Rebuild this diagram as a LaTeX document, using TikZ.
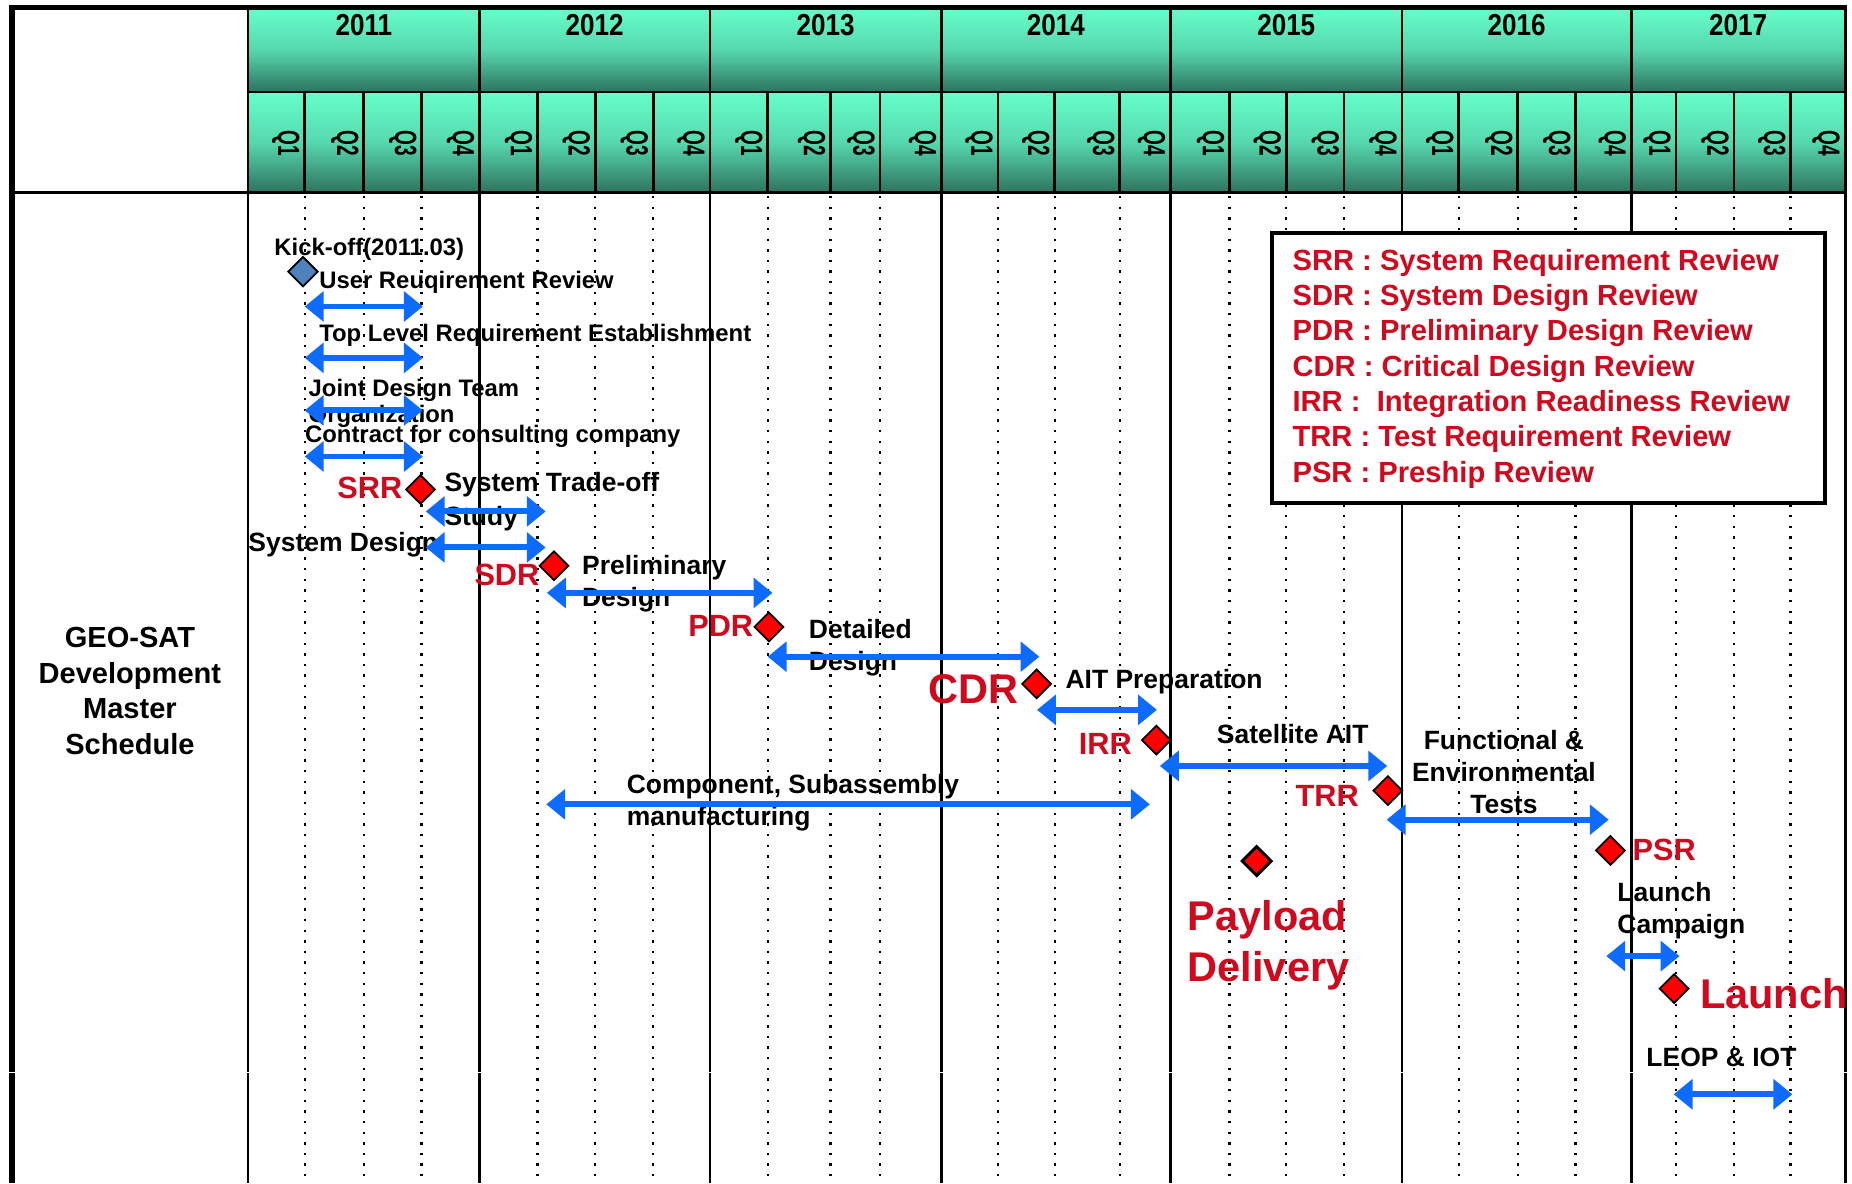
\documentclass[tikz,border=0pt]{standalone}
\usepackage{fontspec}
\setmainfont{Liberation Sans}
\newfontfamily\hdrfont[FakeStretch=0.86]{Liberation Sans}
\newfontfamily\qfont[FakeStretch=0.62]{Liberation Sans}
\usepackage{xcolor}
\definecolor{HdrLight}{HTML}{66FFCC}
\definecolor{HdrDark}{HTML}{2E7260}
\definecolor{SpanBlue}{HTML}{0D6BFF}
\definecolor{MileRed}{HTML}{FF0000}
\definecolor{LabelRed}{HTML}{D00A1E}
\definecolor{KickBlue}{HTML}{4F81BD}
\usetikzlibrary{arrows.meta,shapes.geometric}
\newcommand{\fsz}[2]{\fontsize{#1}{#2}\selectfont}

\begin{document}
\begin{tikzpicture}[x=0.2mm, y=-0.2mm, every node/.style={inner sep=0pt, font=\bfseries},
  hdr/.style={top color=HdrLight, bottom color=HdrDark, middle color=HdrLight!72!HdrDark},
  frame/.style={line width=0.46mm},
  qdots/.style={line width=0.4mm, dash pattern=on 0.4mm off 1.4mm},
  yearlbl/.style={font=\hdrfont\bfseries\fsz{14.6}{16}},
  qlbl/.style={rotate=-90, anchor=north, font=\qfont\bfseries\fsz{14.8}{16}},
  span/.style={draw=SpanBlue, line width=1mm, >={Triangle[width=5mm,length=3.2mm]}, <->},
  ms/.style={diamond, draw=black, fill=MileRed, line width=0.3mm, minimum size=5mm},
  task/.style={anchor=base west, align=left, font=\bfseries\fsz{12.75}{15.4}},
  tasksm/.style={task, font=\bfseries\fsz{11.5}{12.5}},
  mslbl/.style={text=LabelRed, font=\bfseries\fsz{14.8}{17}},
  biglbl/.style={text=LabelRed, font=\bfseries\fsz{20}{24.6}}]
  \useasboundingbox (0,0) rectangle (1568,1002);

  \foreach \yr/\a/\b in {2011/210/406,2012/406/601,2013/601/797,2014/797/991,2015/991/1187,2016/1187/1381,2017/1381/1562}{
    \shade[hdr] (\a,6) rectangle (\b,78);
    \node[yearlbl] (yr\yr) at ({(\a+\b)/2},21) {\yr};
  }
  \foreach \a/\b/\q [count=\i] in {210/258/1,258/308/2,308/357/3,357/406/4,406/455/1,455/504/2,504/553/3,553/601/4,
      601/650/1,650/703/2,703/745/3,745/797/4,797/845/1,845/893/2,893/948/3,948/991/4,991/1041/1,1041/1089/2,
      1089/1138/3,1138/1187/4,1187/1235/1,1235/1285/2,1285/1334/3,1334/1381/4,1381/1419/1,1419/1468/2,
      1468/1516/3,1516/1562/4}{
    \shade[hdr] (\a,78) rectangle (\b,163);
    \node[qlbl] (q\i) at (\b-4,121) {Q\q};
  }

  \draw[line width=0.86mm] (8,6.3) -- (1564,6.3);
  \draw[line width=1mm] (10.4,4) -- (10.4,1002);
  \draw[line width=0.6mm] (1562.3,4) -- (1562.3,1002);
  \draw[line width=0.6mm] (10,163) -- (1562,163);
  \draw[frame] (210,78) -- (1562,78);
  \foreach \x in {210,406,601,797,991,1187,1381} \draw[frame] (\x,6) -- (\x,1002);
  \draw[white, line width=0.3mm] (0,908) -- (1568,908);
  \foreach \x in {258,308,357,455,504,553,650,703,745,845,893,948,1041,1089,1138,1235,1285,1334,1419,1468,1516}{
    \draw[frame] (\x,78) -- (\x,163);
    \draw[qdots] (\x,166) -- (\x,1002);
  }

  \node[font=\bfseries\fsz{14}{17.05}, align=center] (title) at (110,585) {GEO-SAT\\Development\\Master\\Schedule};

  \node[draw=black, fill=white, line width=0.68mm, minimum width=93.6mm, minimum height=45.8mm] (legend) at (1311,311.5) {};
  \node[anchor=base west, align=left, text=LabelRed, font=\bfseries\fsz{14.05}{17.05}] (legtxt) at (1094,408.4)
    {SRR : System Requirement Review\\SDR : System Design Review\\PDR : Preliminary Design Review\\
     CDR : Critical Design Review\\IRR : \ Integration Readiness Review\\TRR : Test Requirement Review\\
     PSR : Preship Review};

  \node[tasksm] (kick) at (232,216) {Kick-off(2011.03)};
  \node[tasksm] (urr) at (270,244) {User Reuqirement Review};
  \node[tasksm] (tlr) at (270,289) {Top Level Requirement Establishment};
  \node[tasksm] (jdt) at (261,358) {Joint Design Team\\Organization};
  \node[tasksm] (ccc) at (258,375) {Contract for consulting company};
  \node[task, font=\bfseries\fsz{12.75}{16.2}] (sto) at (376,444.5) {System Trade-off\\Study};
  \node[task] (sdn) at (210,467) {System Design};
  \node[task] (pre) at (492.5,513.7) {Preliminary\\Design};
  \node[task] (det) at (684.5,567.3) {Detailed\\Design};
  \node[task] (ait) at (901.8,582.8) {AIT Preparation};
  \node[task] (sat) at (1030,629.4) {Satellite AIT};
  \node[task, anchor=base, align=center] (fet) at (1273.3,688.7) {Functional \&\\Environmental\\Tests};
  \node[task] (cmp) at (530.3,698.5) {Component, Subassembly\\manufacturing};
  \node[task] (lcp) at (1369,790.3) {Launch\\Campaign};
  \node[task] (leo) at (1393.6,903.2) {LEOP \& IOT};

  \foreach \n/\a/\b/\y in {urr/258/358/259.5,tlr/258/358/303,jdt/258/358/347.5,ccc/258/358/386.5,
      sto/360.5/462/433,sdn/360.5/462/463.5,pre/463/654/502,det/650/880/556,ait/878/979.5/601,
      cmp/462.5/973.5/681,sat/982/1174.5/648.5,fet/1174/1362/694,lcp/1360/1422/809.5,leo/1417/1517.5/926.5}{
    \coordinate (\n-s) at (\a,\y);
    \coordinate (\n-e) at (\b,\y);
    \draw[span] (\n-s) -- (\n-e);
  }

  \node[ms, fill=KickBlue, minimum size=5.1mm] (m-kick) at (256.5,230) {};
  \node[ms] (m-srr) at (356,414.5) {};
  \node[ms] (m-sdr) at (469,479) {};
  \node[ms] (m-pdr) at (651,530.8) {};
  \node[ms] (m-cdr) at (877.7,579) {};
  \node[ms] (m-irr) at (979,626.6) {};
  \node[ms] (m-trr) at (1175,669.4) {};
  \node[ms] (m-psr) at (1363.5,720) {};
  \node[ms, line width=0.5mm, minimum size=5.1mm] (m-pay) at (1064,729) {};
  \node[ms] (m-lch) at (1417.4,837) {};

  \node[mslbl, anchor=base east] (srr) at (341,421.8) {SRR};
  \node[mslbl, anchor=base east] (sdr) at (457,496) {SDR};
  \node[mslbl, anchor=base east] (pdr) at (638,538.5) {PDR};
  \node[biglbl, anchor=base east] (cdr) at (863,595.5) {CDR};
  \node[mslbl, anchor=base east] (irr) at (958.6,638.4) {IRR};
  \node[mslbl, anchor=base east] (trr) at (1150.8,682.5) {TRR};
  \node[mslbl, anchor=base west] (psr) at (1382,728.2) {PSR};
  \node[biglbl, anchor=base west, align=left] (pay) at (1005.3,831.2) {Payload\\Delivery};
  \node[biglbl, anchor=base west] (lch) at (1439,853.8) {Launch};
\end{tikzpicture}
\end{document}
